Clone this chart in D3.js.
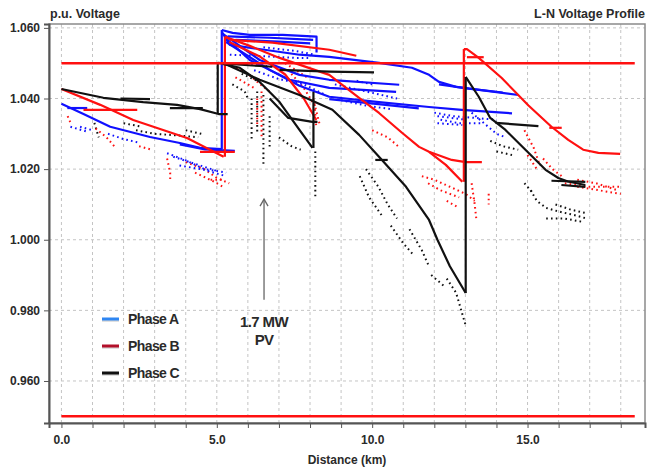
<!DOCTYPE html>
<html><head><meta charset="utf-8">
<script src="https://cdn.jsdelivr.net/npm/d3@7/dist/d3.min.js"></script>
<style>
html,body{margin:0;padding:0;background:#fff;}
svg{display:block;}
text{font-family:"Liberation Sans",Arial,sans-serif;font-weight:bold;fill:#2a2a2a;}
</style></head>
<body>
<svg id="chart" width="648" height="469"></svg>
<script>
// ---------- DATA ----------
const xTickValues = [0,1,2,3,4,5,6,7,8,9,10,11,12,13,14,15,16,17,18];
const xTickLabels = {0:"0.0",5:"5.0",10:"10.0",15:"15.0"};
const yTickValues = [0.96,0.98,1.00,1.02,1.04,1.06];
const yTickLabels = ["0.960","0.980","1.000","1.020","1.040","1.060"];
const limitValues = [1.05, 0.95];
const limitSpan = [0, 18.45];
const legendNames = ["Phase A","Phase B","Phase C"];
const pvLabel = ["1.7 MW","PV"];

// Phase A (blue) feeder branches: [km, p.u.]
const phaseALines = [
  [[0,1.0385],[0.71,1.0356],[1.57,1.0320],[2.85,1.0291],[3.81,1.0274],[4.46,1.0260],[5.16,1.0257]],
  [[3.81,1.0270],[4.62,1.0256],[5.58,1.0252]],
  [[0.19,1.0373],[0.83,1.0373]],
  [[5.16,1.0257],[5.16,1.0594]],
  [[5.16,1.0594],[5.51,1.0586],[6.06,1.0580],[7.12,1.0580],[8.21,1.0575],[8.21,1.0530]],
  [[5.35,1.0576],[6.70,1.0572],[8.10,1.0566]],
  [[5.60,1.0566],[7.00,1.0561],[8.00,1.0556]],
  [[5.16,1.0589],[5.42,1.0552],[7.66,1.0524],[8.62,1.0518],[10.22,1.0501],[11.28,1.0487],[11.83,1.0467],[12.15,1.0447],[12.70,1.0433],[14.71,1.0410]],
  [[12.15,1.0440],[13.11,1.0428],[14.20,1.0417]],
  [[5.16,1.0585],[6.38,1.0509],[7.66,1.0467],[8.62,1.0453],[10.87,1.0439]],
  [[5.30,1.0570],[6.06,1.0509],[7.34,1.0453],[8.62,1.0430],[10.77,1.0419]],
  [[5.30,1.0560],[6.70,1.0481],[7.66,1.0436],[8.62,1.0405],[10.22,1.0390],[11.83,1.0376],[12.88,1.0368],[14.50,1.0358]],
  [[8.62,1.0398],[10.2,1.0384],[11.5,1.0372]]
];
// Phase B (red)
const phaseBLines = [
  [[0,1.0427],[1.25,1.0382],[2.31,1.0339],[4.04,1.0288],[5.22,1.0235]],
  [[0.71,1.0368],[2.44,1.0368]],
  [[4.46,1.0249],[5.58,1.0249]],
  [[5.26,1.0235],[5.26,1.0575]],
  [[5.26,1.0575],[5.48,1.0566],[6.79,1.0558],[8.62,1.0538],[9.49,1.0521]],
  [[5.26,1.0575],[6.06,1.0549],[7.02,1.0515],[8.62,1.0467],[9.58,1.0402],[10.22,1.0359],[10.96,1.0303],[11.51,1.0263],[11.83,1.0249],[12.56,1.0226],[13.01,1.0220],[13.53,1.0220]],
  [[11.83,1.0249],[12.37,1.0212],[12.90,1.0164]],
  [[5.40,1.0560],[6.40,1.0518],[7.20,1.0468],[7.80,1.0400],[8.20,1.0340]],
  [[12.95,1.0164],[12.95,1.0540]],
  [[12.95,1.0540],[13.05,1.0540],[13.43,1.0515],[14.17,1.0458],[15.03,1.0380],[15.77,1.0320],[16.31,1.0283],[16.79,1.0255],[17.28,1.0246],[17.98,1.0243]],
  [[13.05,1.0517],[13.59,1.0517]],
  [[15.70,1.0317],[16.10,1.0317]]
];
// Phase C (black)
const phaseCLines = [
  [[0,1.0427],[1.35,1.0402],[2.63,1.0390],[3.72,1.0382],[4.46,1.0370],[5.06,1.0356],[5.35,1.0356]],
  [[1.90,1.0400],[2.85,1.0398]],
  [[3.49,1.0373],[4.55,1.0373]],
  [[5.03,1.0356],[5.03,1.0501]],
  [[5.03,1.0501],[5.42,1.0498],[6.38,1.0492],[6.79,1.0490]],
  [[7.02,1.0481],[8.62,1.0476],[10.06,1.0474]],
  [[5.19,1.0498],[5.74,1.0487],[6.38,1.0447],[7.02,1.0390],[7.66,1.0311],[8.08,1.0260]],
  [[8.11,1.0260],[8.11,1.0419]],
  [[6.70,1.0400],[7.30,1.0345],[8.08,1.0334],[8.24,1.0334]],
  [[5.19,1.0501],[6.38,1.0453],[7.66,1.0410],[8.72,1.0368],[9.58,1.0297],[10.22,1.0235],[11.09,1.0150],[11.83,1.0056],[12.10,1.0000],[12.50,0.9925],[13.01,0.9849]],
  [[10.10,1.0226],[10.50,1.0226]],
  [[13.01,0.9849],[13.01,1.0461]],
  [[13.01,1.0461],[13.43,1.0405],[13.80,1.0345],[14.29,1.0311],[14.94,1.0254],[15.58,1.0198],[15.99,1.0175],[16.30,1.0165],[16.86,1.0155]],
  [[13.97,1.0331],[15.35,1.0322]],
  [[15.77,1.0167],[16.86,1.0164]],
  [[16.09,1.0155],[16.86,1.0150]]
];
// Secondary nodes (drawn dotted)
const phaseADots = [
  [[5.42,1.0524],[6.5,1.0520],[7.5,1.0515],[8.0,1.0515]],
  [[6.5,1.0545],[7.5,1.0535],[8.1,1.0525]],
  [[5.8,1.0500],[6.8,1.0490]],
  [[0.29,1.0320],[0.83,1.0306]],
  [[0.6,1.0320],[1.0,1.0310]],
  [[1.5,1.0300],[2.0,1.0285],[2.5,1.0275]],
  [[3.4,1.0245],[4.0,1.0225],[4.6,1.0200],[5.3,1.0190]],
  [[3.6,1.0235],[4.3,1.0215],[5.0,1.0195]],
  [[3.8,1.0210],[4.5,1.0200],[5.3,1.0180]],
  [[6.2,1.0480],[7.0,1.0455],[7.8,1.0440],[8.5,1.0410]],
  [[8.8,1.0440],[9.8,1.0420],[10.8,1.0400]],
  [[9.5,1.0450],[10.0,1.0440]],
  [[9.0,1.0395],[9.8,1.0380],[10.6,1.0370]],
  [[12.0,1.0360],[12.6,1.0350],[13.3,1.0345],[14.0,1.0340]],
  [[12.2,1.0340],[12.8,1.0330],[13.5,1.0330]],
  [[12.1,1.0350],[13.0,1.0340]],
  [[12.1,1.0330],[12.9,1.0325]],
  [[13.2,1.0360],[13.6,1.0330],[14.0,1.0300],[14.3,1.0290]]
];
const phaseBDots = [
  [[0.2,1.0350],[0.3,1.0330]],
  [[1.1,1.0315],[1.45,1.0290],[1.75,1.0260]],
  [[2.5,1.0265],[2.9,1.0255]],
  [[3.4,1.0230],[3.5,1.0190],[3.5,1.0170]],
  [[4.0,1.0220],[4.6,1.0200],[5.0,1.0175],[5.4,1.0160]],
  [[4.3,1.0190],[4.9,1.0165],[5.2,1.0150]],
  [[4.8,1.0170],[5.2,1.0170]],
  [[5.5,1.0490],[6.0,1.0470],[6.4,1.0440],[6.7,1.0420]],
  [[5.6,1.0460],[6.2,1.0430]],
  [[6.3,1.0400],[6.3,1.0320]],
  [[6.44,1.0420],[6.44,1.0290]],
  [[7.2,1.0500],[7.9,1.0460]],
  [[7.4,1.0470],[7.8,1.0430],[8.15,1.0380],[8.2,1.0320]],
  [[8.1,1.0400],[8.3,1.0330]],
  [[10.0,1.0310],[10.5,1.0290],[10.9,1.0260]],
  [[11.6,1.0180],[12.0,1.0170],[12.5,1.0150],[13.0,1.0130],[13.3,1.0110]],
  [[11.8,1.0160],[12.2,1.0140],[12.8,1.0120]],
  [[12.4,1.0110],[12.8,1.0090]],
  [[13.2,1.0160],[13.3,1.0100],[13.35,1.0060]],
  [[13.75,1.0130],[13.75,1.0100]],
  [[14.9,1.0310],[15.2,1.0260],[15.4,1.0210]],
  [[15.0,1.0240],[15.3,1.0200]],
  [[15.5,1.0230],[15.8,1.0200],[16.1,1.0180]],
  [[16.6,1.0170],[17.2,1.0160],[17.9,1.0140]],
  [[16.2,1.0160],[17.0,1.0150],[18.0,1.0150]],
  [[16.6,1.0150],[17.3,1.0140],[18.0,1.0130]]
];
const phaseCDots = [
  [[1.06,1.0331],[1.2,1.0290]],
  [[2.0,1.0330],[2.6,1.0320]],
  [[2.4,1.0310],[3.0,1.0300],[3.8,1.0295],[4.4,1.0290]],
  [[4.0,1.0310],[4.5,1.0300]],
  [[5.5,1.0440],[5.9,1.0420],[6.0,1.0400]],
  [[5.8,1.0470],[6.3,1.0450]],
  [[6.12,1.0400],[6.12,1.0280]],
  [[6.3,1.0420],[6.3,1.0300]],
  [[6.5,1.0410],[6.5,1.0210]],
  [[6.7,1.0350],[6.7,1.0260]],
  [[7.0,1.0290],[7.4,1.0265],[7.7,1.0255]],
  [[8.17,1.0250],[8.17,1.0121]],
  [[9.6,1.0180],[9.9,1.0120],[10.3,1.0070]],
  [[9.8,1.0200],[10.2,1.0150],[10.5,1.0100],[10.8,1.0060]],
  [[10.6,1.0040],[11.0,0.9990],[11.3,0.9960]],
  [[11.2,1.0030],[11.6,0.9970],[11.8,0.9930]],
  [[11.9,0.9900],[12.3,0.9870]],
  [[12.4,0.9890],[12.7,0.9850],[12.9,0.9790],[13.0,0.9760]],
  [[13.8,1.0280],[14.2,1.0265],[14.7,1.0255]],
  [[14.0,1.0250],[14.5,1.0240]],
  [[14.9,1.0160],[15.2,1.0130]],
  [[15.1,1.0140],[15.3,1.0110],[15.6,1.0090],[16.0,1.0080],[16.5,1.0070],[16.9,1.0060]],
  [[15.6,1.0060],[16.2,1.0060],[16.8,1.0050]],
  [[15.9,1.0100],[16.4,1.0085],[16.9,1.0075]]
];
const pvArrow = {km: 6.52, from: 0.983, to: 1.0115};

// ---------- DRAW ----------
const svg = d3.select("#chart");
const L = 49, R = 645, T = 24, B = 423;
const x = d3.scaleLinear().domain([-0.4, 18.78]).range([L, R]);
const y = d3.scaleLinear().domain([0.9481, 1.0611]).range([B, T]);
const line = d3.line().x(d => x(d[0])).y(d => y(d[1]));

// grid
const grid = svg.append("g");
grid.selectAll("line.v").data(xTickValues).join("line")
  .attr("x1", d => x(d)).attr("x2", d => x(d)).attr("y1", T).attr("y2", B)
  .attr("stroke", "#c4c4c4").attr("stroke-width", 1).attr("stroke-dasharray", "3,3");
grid.selectAll("line.h").data(yTickValues).join("line")
  .attr("x1", L).attr("x2", R).attr("y1", d => y(d)).attr("y2", d => y(d))
  .attr("stroke", "#c4c4c4").attr("stroke-width", 1).attr("stroke-dasharray", "3,3");

const colA = "#1010ff", colB = "#ff1010", colC = "#111111";
function drawDots(data, col) {
  svg.append("g").selectAll("path").data(data).join("path")
    .attr("d", line).attr("fill", "none").attr("stroke", col)
    .attr("stroke-width", 2).attr("stroke-dasharray", "1.6,3.2");
}
function drawLines(data, col) {
  svg.append("g").selectAll("path").data(data).join("path")
    .attr("d", line).attr("fill", "none").attr("stroke", col)
    .attr("stroke-width", 2.2).attr("stroke-linejoin", "round");
}
drawDots(phaseCDots, colC);
drawDots(phaseBDots, colB);
drawDots(phaseADots, colA);
drawLines(phaseALines, colA);
drawLines(phaseBLines, colB);
drawLines(phaseCLines, colC);

// limit lines
svg.append("g").selectAll("line").data(limitValues).join("line")
  .attr("x1", x(limitSpan[0])).attr("x2", x(limitSpan[1]))
  .attr("y1", d => y(d)).attr("y2", d => y(d))
  .attr("stroke", "#ff1010").attr("stroke-width", 2.6);

// frame
svg.append("rect").attr("x", L).attr("y", T).attr("width", R - L).attr("height", B - T)
  .attr("fill", "none").attr("stroke", "#8a8a8a").attr("stroke-width", 1.5);

// axes
const yAxis = svg.append("g").attr("transform", `translate(${L},0)`)
  .call(d3.axisLeft(y).tickValues(yTickValues).tickSize(5).tickPadding(4)
    .tickFormat((d, i) => yTickLabels[i]));
const xAxis = svg.append("g").attr("transform", `translate(0,${B})`)
  .call(d3.axisBottom(x).tickValues(xTickValues).tickSize(5).tickPadding(7)
    .tickFormat(d => xTickLabels[d] || ""));
[yAxis, xAxis].forEach(g => {
  g.select(".domain").attr("stroke", "#555").attr("stroke-width", 2);
  g.selectAll(".tick line").attr("stroke", "#555").attr("stroke-width", 1);
  g.selectAll(".tick text").attr("font-size", 12).attr("font-weight", "bold")
    .attr("fill", "#2a2a2a").attr("font-family", "Liberation Sans, Arial, sans-serif");
});

// titles
svg.append("text").attr("x", 50).attr("y", 18).attr("font-size", 12.5).text("p.u. Voltage");
svg.append("text").attr("x", 645).attr("y", 18).attr("font-size", 12.5)
  .attr("text-anchor", "end").text("L-N Voltage Profile");
svg.append("text").attr("x", 347).attr("y", 464).attr("font-size", 12)
  .attr("text-anchor", "middle").text("Distance (km)");

// legend
const legendCols = ["#2f86f2", "#b3102a", "#111111"];
const lg = svg.append("g");
legendNames.forEach((n, i) => {
  const yy = 319 + i * 27;
  lg.append("line").attr("x1", 102).attr("x2", 119).attr("y1", yy + 1).attr("y2", yy + 1)
    .attr("stroke", "#bbb").attr("stroke-width", 3.5).attr("opacity", 0.6);
  lg.append("line").attr("x1", 102).attr("x2", 119).attr("y1", yy).attr("y2", yy)
    .attr("stroke", legendCols[i]).attr("stroke-width", 3);
  lg.append("text").attr("x", 128).attr("y", yy + 5).attr("font-size", 14)
    .attr("font-weight", "normal").attr("letter-spacing", -0.6).attr("fill", "#111")
    .attr("font-family", "Liberation Sans Narrow, Liberation Sans, Arial, sans-serif")
    .text(n);
});

// PV annotation
const ax = x(pvArrow.km);
svg.append("line").attr("x1", ax).attr("x2", ax).attr("y1", y(pvArrow.from)).attr("y2", y(pvArrow.to))
  .attr("stroke", "#666").attr("stroke-width", 1.3);
svg.append("path")
  .attr("d", `M${ax - 4},${y(pvArrow.to) + 7}L${ax},${y(pvArrow.to)}L${ax + 4},${y(pvArrow.to) + 7}`)
  .attr("fill", "none").attr("stroke", "#666").attr("stroke-width", 1.3);
pvLabel.forEach((t, i) => {
  svg.append("text").attr("x", ax).attr("y", y(pvArrow.from) + 27 + i * 18)
    .attr("text-anchor", "middle").attr("font-size", 15).attr("letter-spacing", -0.6)
    .attr("fill", "#111").text(t);
});
</script>
</body></html>
